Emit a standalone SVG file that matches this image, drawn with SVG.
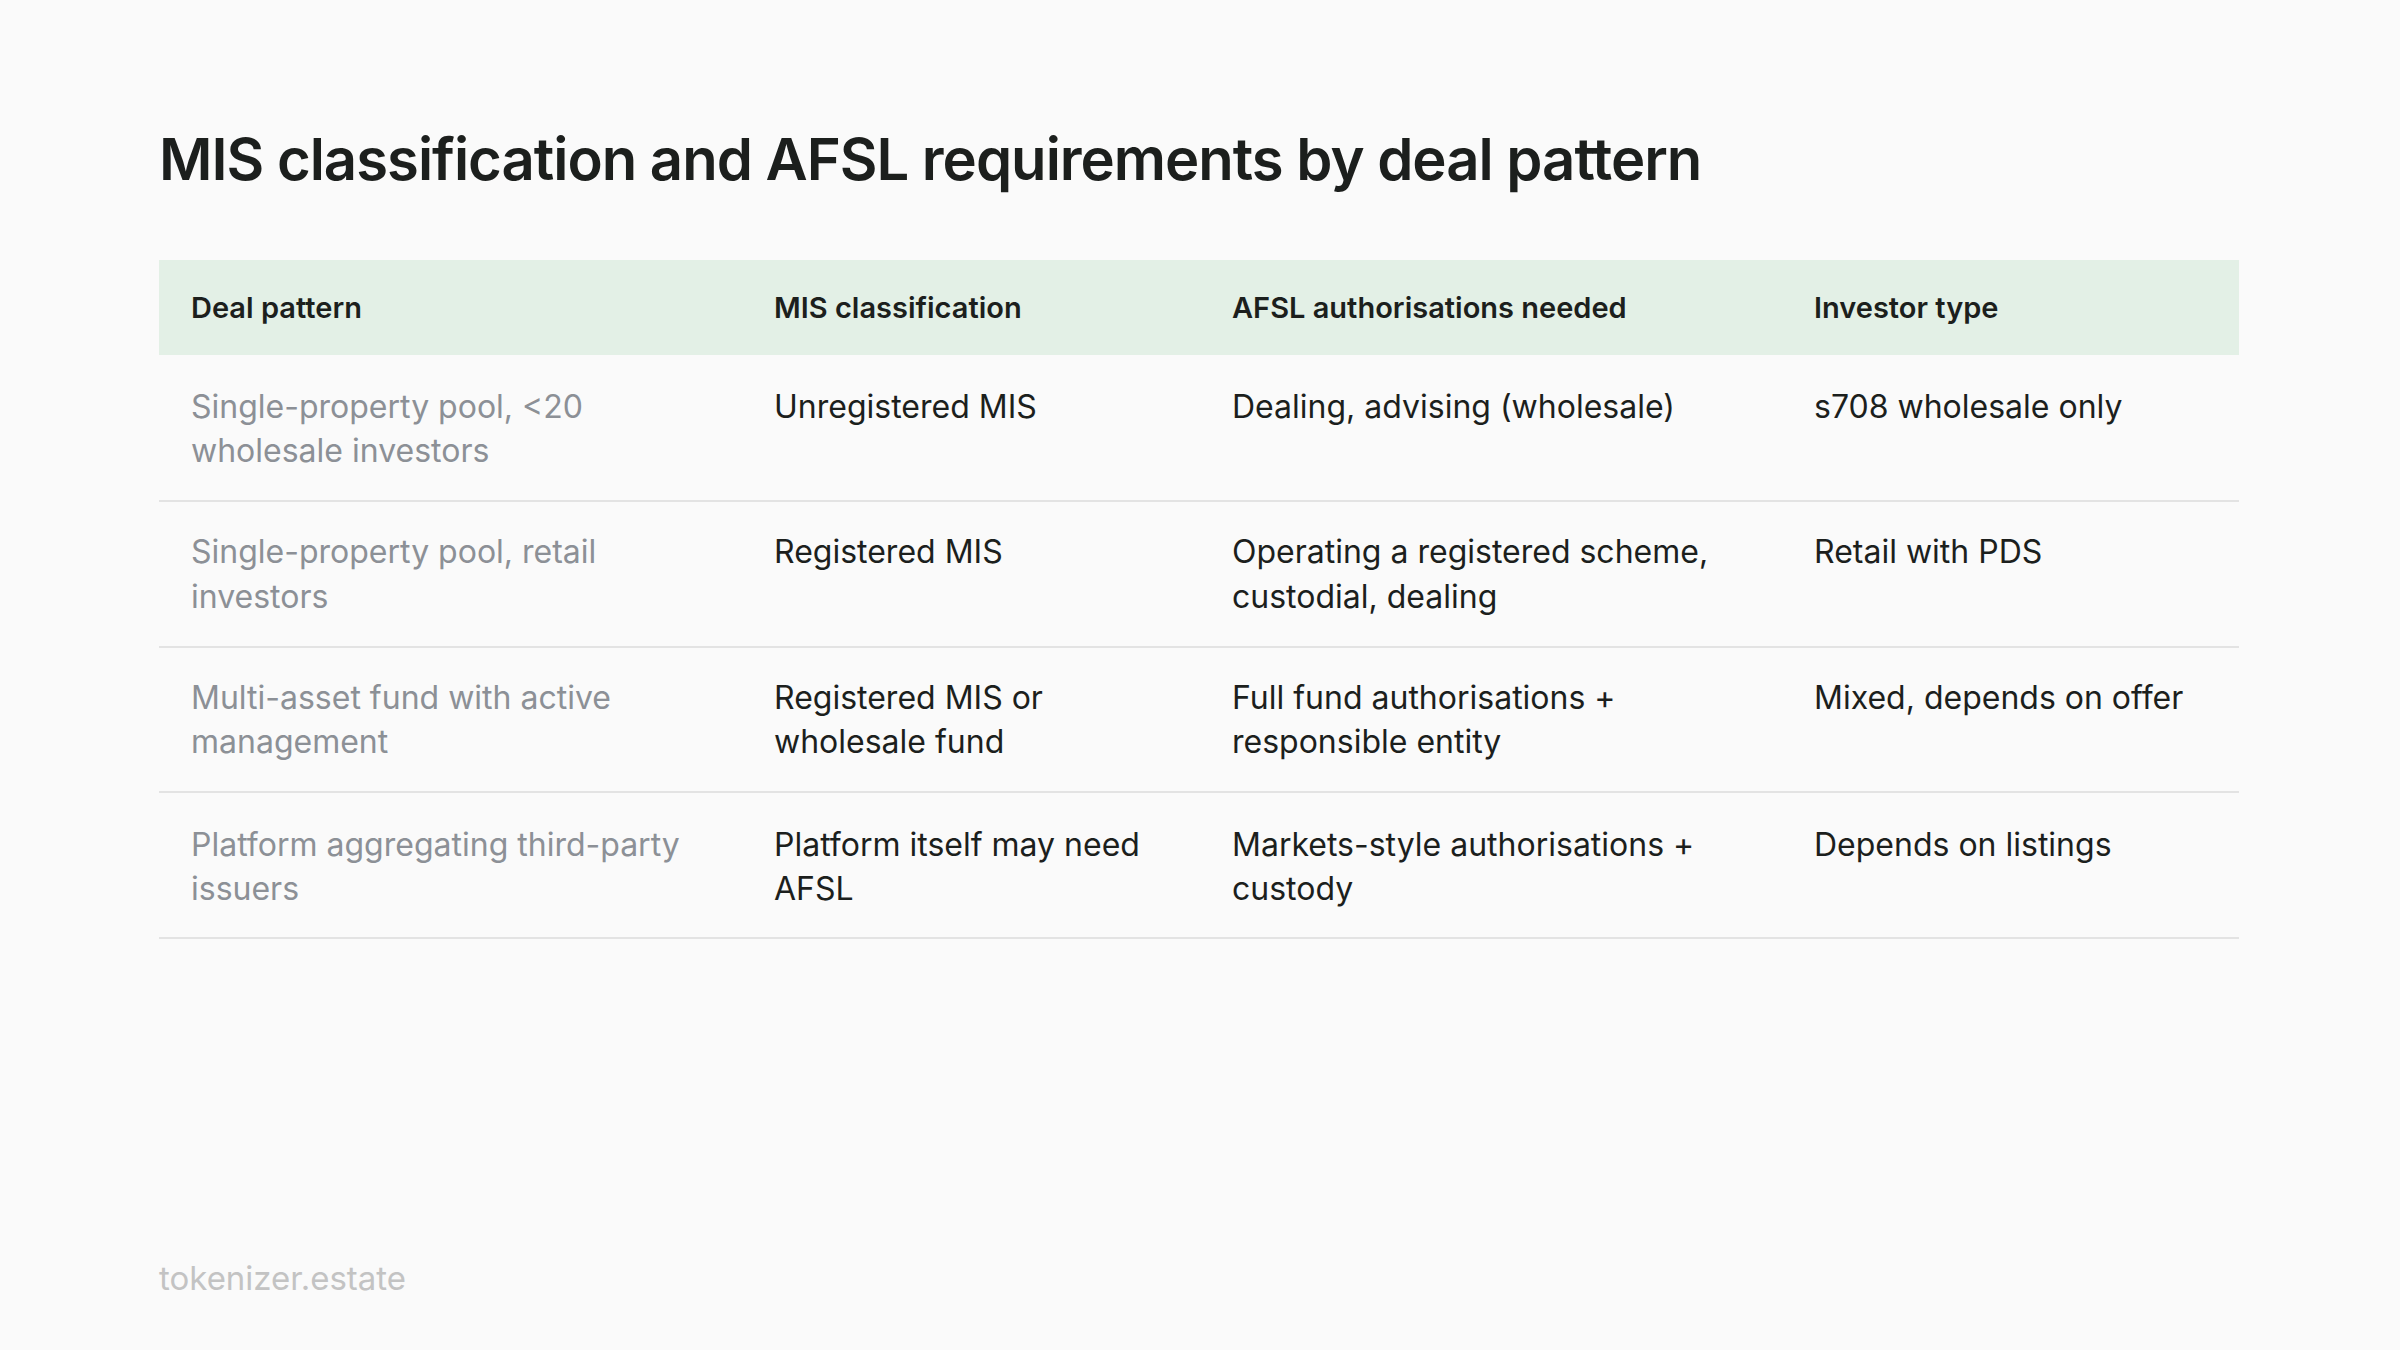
<svg xmlns="http://www.w3.org/2000/svg" width="2400" height="1350" viewBox="0 0 2400 1350">
<style>
text{font-family:Inter,"Noto Sans",sans-serif}
.h{font-size:29px;font-weight:600;fill:#1c1f1d}
.c{font-size:32px;fill:#1c1f1d}
.g{font-size:32px;fill:#8c9096}
.sep{stroke:#e3e3e3;stroke-width:2}
</style>
<rect width="2400" height="1350" fill="#fafafa"/>
<text x="159" y="180" font-size="58" font-weight="600" fill="#1c1f1d" letter-spacing="-1">MIS classification and AFSL requirements by deal pattern</text>
<g id="header">
<rect x="159" y="260" width="2080" height="95" fill="#e3f0e6"/>
<text class="h" x="191" y="318">Deal pattern</text>
<text class="h" x="774" y="318">MIS classification</text>
<text class="h" x="1232" y="318">AFSL authorisations needed</text>
<text class="h" x="1814" y="318">Investor type</text>
</g>
<g id="rows">
<text class="g" x="191" y="418">Single-property pool, &lt;20</text>
<text class="g" x="191" y="462">wholesale investors</text>
<text class="c" x="774" y="418">Unregistered MIS</text>
<text class="c" x="1232" y="418">Dealing, advising (wholesale)</text>
<text class="c" x="1814" y="418">s708 wholesale only</text>
<line class="sep" x1="159" y1="501" x2="2239" y2="501"/>
<text class="g" x="191" y="563">Single-property pool, retail</text>
<text class="g" x="191" y="608">investors</text>
<text class="c" x="774" y="563">Registered MIS</text>
<text class="c" x="1232" y="563">Operating a registered scheme,</text>
<text class="c" x="1232" y="608">custodial, dealing</text>
<text class="c" x="1814" y="563">Retail with PDS</text>
<line class="sep" x1="159" y1="647" x2="2239" y2="647"/>
<text class="g" x="191" y="709">Multi-asset fund with active</text>
<text class="g" x="191" y="753">management</text>
<text class="c" x="774" y="709">Registered MIS or</text>
<text class="c" x="774" y="753">wholesale fund</text>
<text class="c" x="1232" y="709">Full fund authorisations +</text>
<text class="c" x="1232" y="753">responsible entity</text>
<text class="c" x="1814" y="709">Mixed, depends on offer</text>
<line class="sep" x1="159" y1="792" x2="2239" y2="792"/>
<text class="g" x="191" y="856">Platform aggregating third-party</text>
<text class="g" x="191" y="900">issuers</text>
<text class="c" x="774" y="856">Platform itself may need</text>
<text class="c" x="774" y="900">AFSL</text>
<text class="c" x="1232" y="856">Markets-style authorisations +</text>
<text class="c" x="1232" y="900">custody</text>
<text class="c" x="1814" y="856">Depends on listings</text>
<line class="sep" x1="159" y1="938" x2="2239" y2="938"/>
</g>
<text x="159" y="1290" font-size="33" fill="#c3c3c3">tokenizer.estate</text>
</svg>
